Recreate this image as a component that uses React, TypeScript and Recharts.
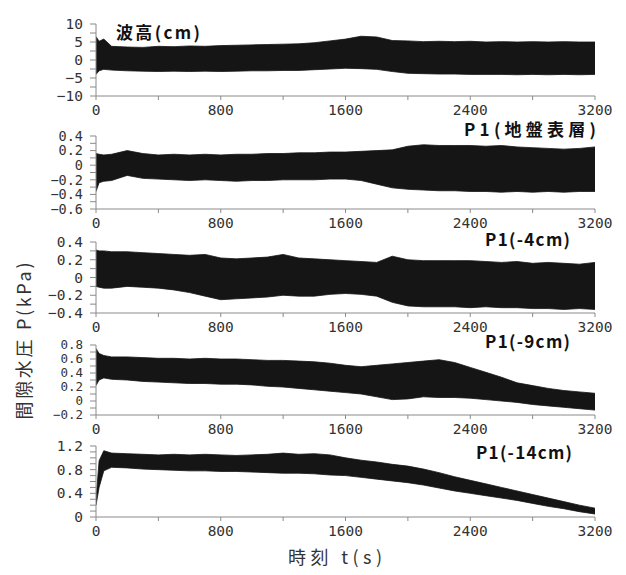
import { AreaChart, Area, XAxis, YAxis } from "recharts";

// time samples (s) shared by all five records
const TIMES = [
  0, 20, 50, 100, 200, 300, 400, 500, 600, 700, 800, 900, 1000, 1100, 1200, 1300, 1400,
  1500, 1600, 1700, 1800, 1900, 2000, 2100, 2200, 2300, 2400, 2500, 2600, 2700, 2800,
  2900, 3000, 3100, 3200,
];
const X_TICKS = [0, 400, 800, 1200, 1600, 2000, 2400, 2800, 3200];

// envelope of each oscillating record (upper / lower)
const WAVE_HI = [
  6.5, 5.2, 5.8, 3.8, 3.6, 3.5, 3.8, 3.7, 3.9, 3.8, 4.0, 4.1, 4.2, 4.3, 4.4, 4.5, 4.8,
  5.3, 5.8, 6.6, 6.4, 5.4, 5.3, 5.1, 5.2, 5.1, 5.2, 5.0, 5.1, 5.0, 5.1, 5.0, 5.1, 5.0, 5.0,
];
const WAVE_LO = [
  -4.0, -3.0, -2.6, -2.8, -3.0, -3.1, -3.2, -3.1, -3.2, -3.1, -3.2, -3.1, -3.0, -3.0, -2.9,
  -2.9, -2.7, -2.5, -2.3, -2.4, -2.6, -3.2, -3.7, -3.8, -3.9, -3.9, -4.0, -4.0, -4.0, -4.1,
  -4.0, -4.1, -4.0, -4.1, -4.0,
];

const SURF_HI = [
  0.16, 0.15, 0.14, 0.15, 0.2, 0.16, 0.14, 0.15, 0.14, 0.15, 0.14, 0.15, 0.15, 0.16, 0.16,
  0.17, 0.17, 0.18, 0.18, 0.19, 0.2, 0.21, 0.26, 0.28, 0.27, 0.27, 0.27, 0.26, 0.27, 0.25,
  0.24, 0.23, 0.22, 0.23, 0.25,
];
const SURF_LO = [
  -0.36, -0.24, -0.22, -0.21, -0.14, -0.18, -0.19, -0.2, -0.21, -0.2, -0.21, -0.22, -0.21,
  -0.21, -0.2, -0.2, -0.2, -0.19, -0.19, -0.21, -0.26, -0.31, -0.33, -0.34, -0.35, -0.35,
  -0.36, -0.36, -0.37, -0.36, -0.37, -0.36, -0.37, -0.36, -0.36,
];

const D4_HI = [
  0.31, 0.3, 0.3, 0.29, 0.29, 0.28, 0.27, 0.26, 0.25, 0.26, 0.22, 0.21, 0.22, 0.23, 0.26,
  0.22, 0.21, 0.2, 0.19, 0.18, 0.17, 0.24, 0.2, 0.19, 0.19, 0.19, 0.19, 0.18, 0.17, 0.18,
  0.16, 0.17, 0.16, 0.15, 0.17,
];
const D4_LO = [
  -0.1, -0.11, -0.12, -0.12, -0.1, -0.11, -0.12, -0.14, -0.17, -0.21, -0.25, -0.24, -0.23,
  -0.22, -0.2, -0.21, -0.21, -0.19, -0.18, -0.19, -0.21, -0.28, -0.32, -0.33, -0.33, -0.33,
  -0.34, -0.33, -0.34, -0.34, -0.35, -0.35, -0.36, -0.35, -0.36,
];

const D9_HI = [
  0.75, 0.68, 0.65, 0.63, 0.63, 0.62, 0.61, 0.61, 0.6, 0.61, 0.6, 0.6, 0.59, 0.58, 0.58,
  0.57, 0.56, 0.54, 0.51, 0.49, 0.51, 0.53, 0.55, 0.57, 0.59, 0.55, 0.48, 0.41, 0.34, 0.26,
  0.22, 0.18, 0.15, 0.13, 0.11,
];
const D9_LO = [
  0.22, 0.3, 0.33, 0.31, 0.3, 0.28, 0.27, 0.26, 0.25, 0.25, 0.24, 0.24, 0.23, 0.21, 0.2,
  0.18, 0.16, 0.14, 0.12, 0.1, 0.06, 0.02, 0.03, 0.06, 0.05, 0.05, 0.04, 0.02, 0.0, -0.02,
  -0.05, -0.07, -0.09, -0.11, -0.13,
];

const D14_HI = [
  0.3, 0.95, 1.12, 1.08, 1.07, 1.06, 1.05, 1.06, 1.05, 1.06, 1.05, 1.04, 1.05, 1.06, 1.08,
  1.06, 1.07, 1.05, 1.0, 0.96, 0.93, 0.89, 0.86, 0.81, 0.75, 0.68, 0.62, 0.56, 0.5, 0.44,
  0.38, 0.32, 0.26, 0.2, 0.15,
];
const D14_LO = [
  0.2, 0.5, 0.78, 0.84, 0.83, 0.81, 0.8, 0.79, 0.78, 0.78, 0.77, 0.77, 0.76, 0.75, 0.74,
  0.74, 0.73, 0.71, 0.7, 0.67, 0.64, 0.61, 0.58, 0.54, 0.49, 0.44, 0.4, 0.36, 0.32, 0.28,
  0.23, 0.18, 0.14, 0.09, 0.05,
];

const WAVE_TICKS = [-10, -7.5, -5, -2.5, 0, 2.5, 5, 7.5, 10];
const SURF_TICKS = [-0.6, -0.5, -0.4, -0.3, -0.2, -0.1, 0, 0.1, 0.2, 0.3, 0.4];
const D4_TICKS = [-0.4, -0.3, -0.2, -0.1, 0, 0.1, 0.2, 0.3, 0.4];
const D9_TICKS = [-0.2, -0.1, 0, 0.1, 0.2, 0.3, 0.4, 0.5, 0.6, 0.7, 0.8];
const D14_TICKS = [0, 0.1, 0.2, 0.3, 0.4, 0.5, 0.6, 0.7, 0.8, 0.9, 1.0, 1.1, 1.2];

const INK = "#151515";
const AXIS = "#8a8a8a";
const MONO = "'DejaVu Sans Mono', monospace";

interface PanelProps {
  top: number;
  plotH: number;
  lo: number[];
  hi: number[];
  domain: [number, number];
  ticks: number[];
  labelStep: number;
  decimals: number;
  yFont?: number;
}

function Panel({ top, plotH, lo, hi, domain, ticks, labelStep, decimals, yFont = 14.5 }: PanelProps) {
  const data = TIMES.map((t, i) => ({ t, range: [lo[i], hi[i]] }));
  const yFmt = (v: number) => {
    const k = v / labelStep;
    if (Math.abs(k - Math.round(k)) > 1e-6) return "";
    if (Math.abs(v) < 1e-9) return "0";
    return v.toFixed(decimals).replace("-", "\u2212");
  };
  const xFmt = (v: number) => (v % 800 === 0 ? String(v) : "");

  return (
    <div style={{ position: "absolute", left: 0, top: top - 10 }}>
      <AreaChart
        width={626}
        height={plotH + 40}
        data={data}
        margin={{ top: 10, right: 31, bottom: 0, left: 0 }}
      >
        <XAxis
          dataKey="t"
          type="number"
          domain={[0, 3200]}
          ticks={X_TICKS}
          interval={0}
          height={30}
          tickFormatter={xFmt}
          tick={{ fontFamily: MONO, fontSize: 14.5, fill: "#333" }}
          tickSize={4}
          tickMargin={5}
          stroke={AXIS}
          allowDataOverflow
        />
        <YAxis
          type="number"
          domain={domain}
          ticks={ticks}
          interval={0}
          width={96}
          tickFormatter={yFmt}
          tick={{ fontFamily: MONO, fontSize: yFont, fill: "#333" }}
          tickSize={6}
          tickMargin={7}
          stroke={AXIS}
          allowDataOverflow
        />
        <Area
          type="linear"
          dataKey="range"
          stroke={INK}
          strokeWidth={0.8}
          fill={INK}
          fillOpacity={1}
          dot={false}
          activeDot={false}
          isAnimationActive={false}
        />
      </AreaChart>
    </div>
  );
}

const titleStyle = {
  fontFamily: "'Noto Sans CJK JP', sans-serif",
  fontWeight: 700,
  fontSize: 17,
  fill: "#111",
};

export default function App() {
  return (
    <div style={{ position: "absolute", left: 0, top: 0, width: 626, height: 575, background: "#fff" }}>
      <Panel top={24} plotH={72} lo={WAVE_LO} hi={WAVE_HI} domain={[-10, 10]} ticks={WAVE_TICKS} labelStep={5} decimals={0} />
      <Panel top={136} plotH={73} lo={SURF_LO} hi={SURF_HI} domain={[-0.6, 0.4]} ticks={SURF_TICKS} labelStep={0.2} decimals={1} yFont={13.5} />
      <Panel top={242} plotH={71} lo={D4_LO} hi={D4_HI} domain={[-0.4, 0.4]} ticks={D4_TICKS} labelStep={0.2} decimals={1} />
      <Panel top={345} plotH={70} lo={D9_LO} hi={D9_HI} domain={[-0.2, 0.8]} ticks={D9_TICKS} labelStep={0.2} decimals={1} yFont={12.5} />
      <Panel top={446} plotH={71} lo={D14_LO} hi={D14_HI} domain={[0, 1.2]} ticks={D14_TICKS} labelStep={0.4} decimals={1} />

      <svg width={626} height={575} style={{ position: "absolute", left: 0, top: 0, pointerEvents: "none" }}>
        <text x={116} y={39} textLength={84} lengthAdjust="spacing" style={titleStyle}>波高(cm)</text>
        <text x={464} y={136} textLength={132} lengthAdjust="spacing" style={titleStyle}>P1(地盤表層)</text>
        <text x={485} y={246} textLength={85} lengthAdjust="spacing" style={titleStyle}>P1(-4cm)</text>
        <text x={485} y={348} textLength={85} lengthAdjust="spacing" style={titleStyle}>P1(-9cm)</text>
        <text x={476} y={459} textLength={96} lengthAdjust="spacing" style={titleStyle}>P1(-14cm)</text>
        <text
          transform="translate(31,341) rotate(-90)"
          textAnchor="middle"
          textLength={157}
          lengthAdjust="spacing"
          style={{ fontFamily: "'Noto Sans CJK JP', sans-serif", fontSize: 18, fill: "#333" }}
        >
          間隙水圧 P(kPa)
        </text>
        <text
          x={335}
          y={564}
          textAnchor="middle"
          textLength={94}
          lengthAdjust="spacing"
          style={{ fontFamily: "'Noto Sans CJK JP', sans-serif", fontSize: 18, fill: "#333" }}
        >
          時刻 t(s)
        </text>
      </svg>
    </div>
  );
}
